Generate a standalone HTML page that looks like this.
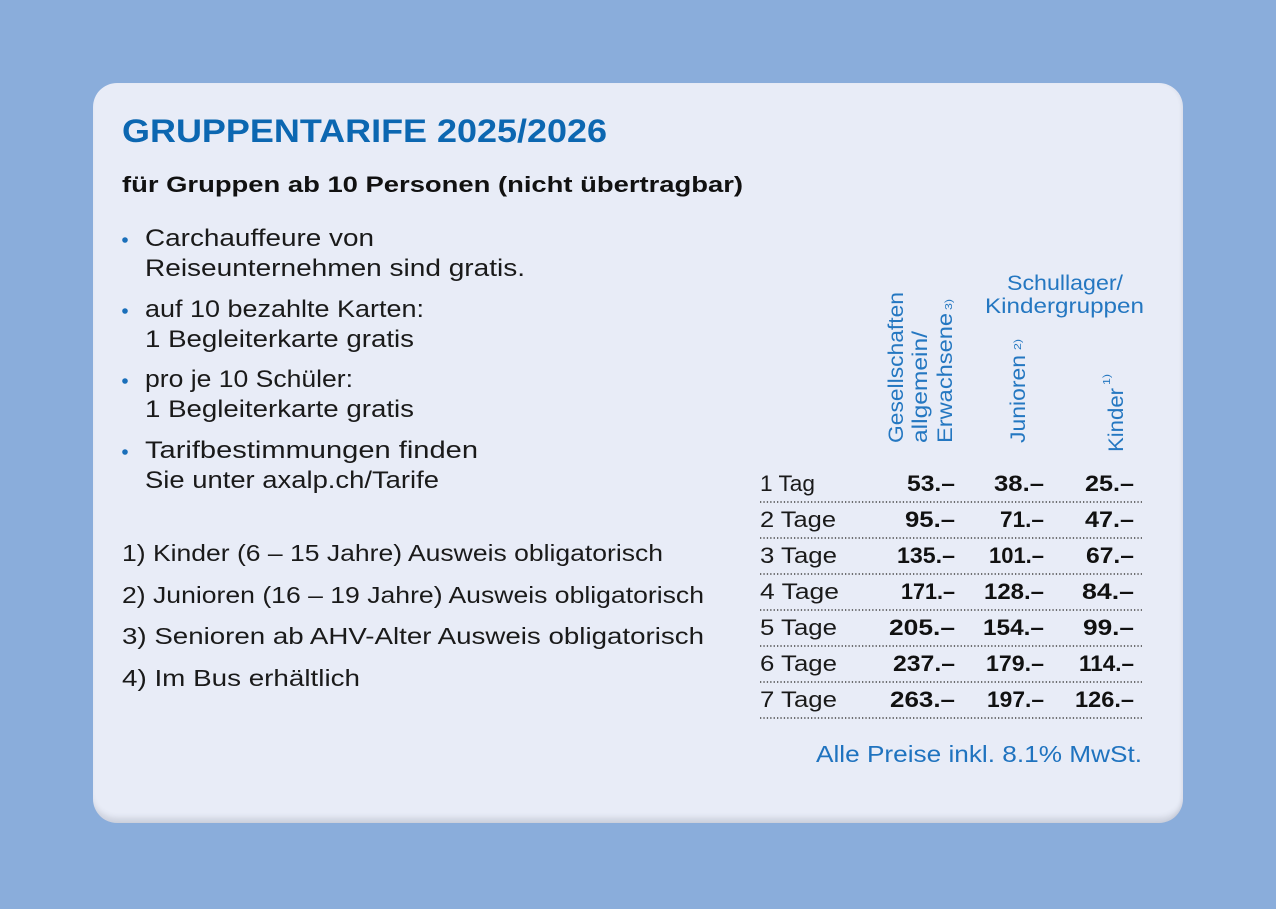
<!DOCTYPE html>
<html>
<head>
<meta charset="utf-8">
<style>
  html, body { margin:0; padding:0; }
  body { width:1276px; height:909px; background:#8aaddb; position:relative; overflow:hidden; }
  .card {
    position:absolute; left:93px; top:83px; width:1090px; height:740px;
    border-radius:24px; background:#e8ecf7;
    box-shadow: inset 0 -8px 6px -3px rgba(60,70,90,0.16), inset -3px 0 3px -1px rgba(60,70,90,0.06);
  }
  svg { position:absolute; left:0; top:0; }
  text { font-family:"Liberation Sans", sans-serif; }
</style>
</head>
<body>
<div class="card"></div>
<svg width="1276" height="909" viewBox="0 0 1276 909" xmlns="http://www.w3.org/2000/svg">
  <!-- Title -->
  <text x="122" y="142" font-size="32" font-weight="bold" fill="#0c67b1" textLength="485" lengthAdjust="spacingAndGlyphs">GRUPPENTARIFE 2025/2026</text>
  <text x="122" y="192" font-size="22" font-weight="bold" fill="#111" textLength="621" lengthAdjust="spacingAndGlyphs">für Gruppen ab 10 Personen (nicht übertragbar)</text>

  <!-- Bullets -->
  <g fill="#1a6fba">
    <circle cx="125" cy="240" r="2.8"/>
    <circle cx="125" cy="311" r="2.8"/>
    <circle cx="125" cy="381" r="2.8"/>
    <circle cx="125" cy="452" r="2.8"/>
  </g>
  <g font-size="24" fill="#1a1a1a">
    <text x="145" y="246" textLength="229" lengthAdjust="spacingAndGlyphs">Carchauffeure von</text>
    <text x="145" y="276" textLength="380" lengthAdjust="spacingAndGlyphs">Reiseunternehmen sind gratis.</text>
    <text x="145" y="317" textLength="279" lengthAdjust="spacingAndGlyphs">auf 10 bezahlte Karten:</text>
    <text x="145" y="347" textLength="269" lengthAdjust="spacingAndGlyphs">1 Begleiterkarte gratis</text>
    <text x="145" y="387" textLength="208" lengthAdjust="spacingAndGlyphs">pro je 10 Schüler:</text>
    <text x="145" y="417" textLength="269" lengthAdjust="spacingAndGlyphs">1 Begleiterkarte gratis</text>
    <text x="145" y="458" textLength="333" lengthAdjust="spacingAndGlyphs">Tarifbestimmungen finden</text>
    <text x="145" y="488" textLength="294" lengthAdjust="spacingAndGlyphs">Sie unter axalp.ch/Tarife</text>
  </g>

  <!-- Footnotes -->
  <g font-size="23" fill="#1a1a1a">
    <text x="122" y="561" textLength="541" lengthAdjust="spacingAndGlyphs">1) Kinder (6 – 15 Jahre) Ausweis obligatorisch</text>
    <text x="122" y="603" textLength="582" lengthAdjust="spacingAndGlyphs">2) Junioren (16 – 19 Jahre) Ausweis obligatorisch</text>
    <text x="122" y="644" textLength="582" lengthAdjust="spacingAndGlyphs">3) Senioren ab AHV-Alter Ausweis obligatorisch</text>
    <text x="122" y="686" textLength="238" lengthAdjust="spacingAndGlyphs">4) Im Bus erhältlich</text>
  </g>

  <!-- Column headers -->
  <g fill="#2477c1" font-size="21">
    <text x="1007" y="290" textLength="116" lengthAdjust="spacingAndGlyphs">Schullager/</text>
    <text x="985" y="313" textLength="159" lengthAdjust="spacingAndGlyphs">Kindergruppen</text>

    <text transform="translate(903,443) rotate(-90)" x="0" y="0" textLength="151" lengthAdjust="spacingAndGlyphs">Gesellschaften</text>
    <text transform="translate(927,443) rotate(-90)" x="0" y="0" textLength="112" lengthAdjust="spacingAndGlyphs">allgemein/</text>
    <text transform="translate(952,443) rotate(-90)" x="0" y="0" textLength="130" lengthAdjust="spacingAndGlyphs">Erwachsene</text>
    <text transform="translate(952,310) rotate(-90)" x="0" y="0" font-size="10" textLength="11" lengthAdjust="spacingAndGlyphs">3)</text>

    <text transform="translate(1025,443) rotate(-90)" x="0" y="0" textLength="88" lengthAdjust="spacingAndGlyphs">Junioren</text>
    <text transform="translate(1021,350) rotate(-90)" x="0" y="0" font-size="10" textLength="11" lengthAdjust="spacingAndGlyphs">2)</text>

    <text transform="translate(1123,452) rotate(-90)" x="0" y="0" textLength="64" lengthAdjust="spacingAndGlyphs">Kinder</text>
    <text transform="translate(1110,385) rotate(-90)" x="0" y="0" font-size="10" textLength="11" lengthAdjust="spacingAndGlyphs">1)</text>
  </g>

  <!-- Row labels -->
  <g font-size="22" fill="#1a1a1a">
    <text x="760" y="491" textLength="55" lengthAdjust="spacingAndGlyphs">1 Tag</text>
    <text x="760" y="527" textLength="76" lengthAdjust="spacingAndGlyphs">2 Tage</text>
    <text x="760" y="563" textLength="77" lengthAdjust="spacingAndGlyphs">3 Tage</text>
    <text x="760" y="599" textLength="79" lengthAdjust="spacingAndGlyphs">4 Tage</text>
    <text x="760" y="635" textLength="77" lengthAdjust="spacingAndGlyphs">5 Tage</text>
    <text x="760" y="671" textLength="77" lengthAdjust="spacingAndGlyphs">6 Tage</text>
    <text x="760" y="707" textLength="77" lengthAdjust="spacingAndGlyphs">7 Tage</text>
  </g>

  <!-- Prices -->
  <g font-size="22" font-weight="bold" fill="#111">
    <text x="907" y="491" textLength="48" lengthAdjust="spacingAndGlyphs">53.–</text>
    <text x="994" y="491" textLength="50" lengthAdjust="spacingAndGlyphs">38.–</text>
    <text x="1085" y="491" textLength="49" lengthAdjust="spacingAndGlyphs">25.–</text>

    <text x="905" y="527" textLength="50" lengthAdjust="spacingAndGlyphs">95.–</text>
    <text x="1000" y="527" textLength="44" lengthAdjust="spacingAndGlyphs">71.–</text>
    <text x="1085" y="527" textLength="49" lengthAdjust="spacingAndGlyphs">47.–</text>

    <text x="897" y="563" textLength="58" lengthAdjust="spacingAndGlyphs">135.–</text>
    <text x="989" y="563" textLength="55" lengthAdjust="spacingAndGlyphs">101.–</text>
    <text x="1086" y="563" textLength="48" lengthAdjust="spacingAndGlyphs">67.–</text>

    <text x="901" y="599" textLength="54" lengthAdjust="spacingAndGlyphs">171.–</text>
    <text x="984" y="599" textLength="60" lengthAdjust="spacingAndGlyphs">128.–</text>
    <text x="1082" y="599" textLength="52" lengthAdjust="spacingAndGlyphs">84.–</text>

    <text x="889" y="635" textLength="66" lengthAdjust="spacingAndGlyphs">205.–</text>
    <text x="983" y="635" textLength="61" lengthAdjust="spacingAndGlyphs">154.–</text>
    <text x="1083" y="635" textLength="51" lengthAdjust="spacingAndGlyphs">99.–</text>

    <text x="893" y="671" textLength="62" lengthAdjust="spacingAndGlyphs">237.–</text>
    <text x="986" y="671" textLength="58" lengthAdjust="spacingAndGlyphs">179.–</text>
    <text x="1079" y="671" textLength="55" lengthAdjust="spacingAndGlyphs">114.–</text>

    <text x="890" y="707" textLength="65" lengthAdjust="spacingAndGlyphs">263.–</text>
    <text x="987" y="707" textLength="57" lengthAdjust="spacingAndGlyphs">197.–</text>
    <text x="1075" y="707" textLength="59" lengthAdjust="spacingAndGlyphs">126.–</text>
  </g>

  <!-- Dotted separators -->
  <g stroke="#444" stroke-width="1.4" stroke-dasharray="1.3 2.1">
    <line x1="760" y1="502" x2="1142" y2="502"/>
    <line x1="760" y1="538" x2="1142" y2="538"/>
    <line x1="760" y1="574" x2="1142" y2="574"/>
    <line x1="760" y1="610" x2="1142" y2="610"/>
    <line x1="760" y1="646" x2="1142" y2="646"/>
    <line x1="760" y1="682" x2="1142" y2="682"/>
    <line x1="760" y1="718" x2="1142" y2="718"/>
  </g>

  <!-- Footer note -->
  <text x="816" y="762" font-size="23" fill="#1f73bf" textLength="326" lengthAdjust="spacingAndGlyphs">Alle Preise inkl. 8.1% MwSt.</text>
</svg>
</body>
</html>
